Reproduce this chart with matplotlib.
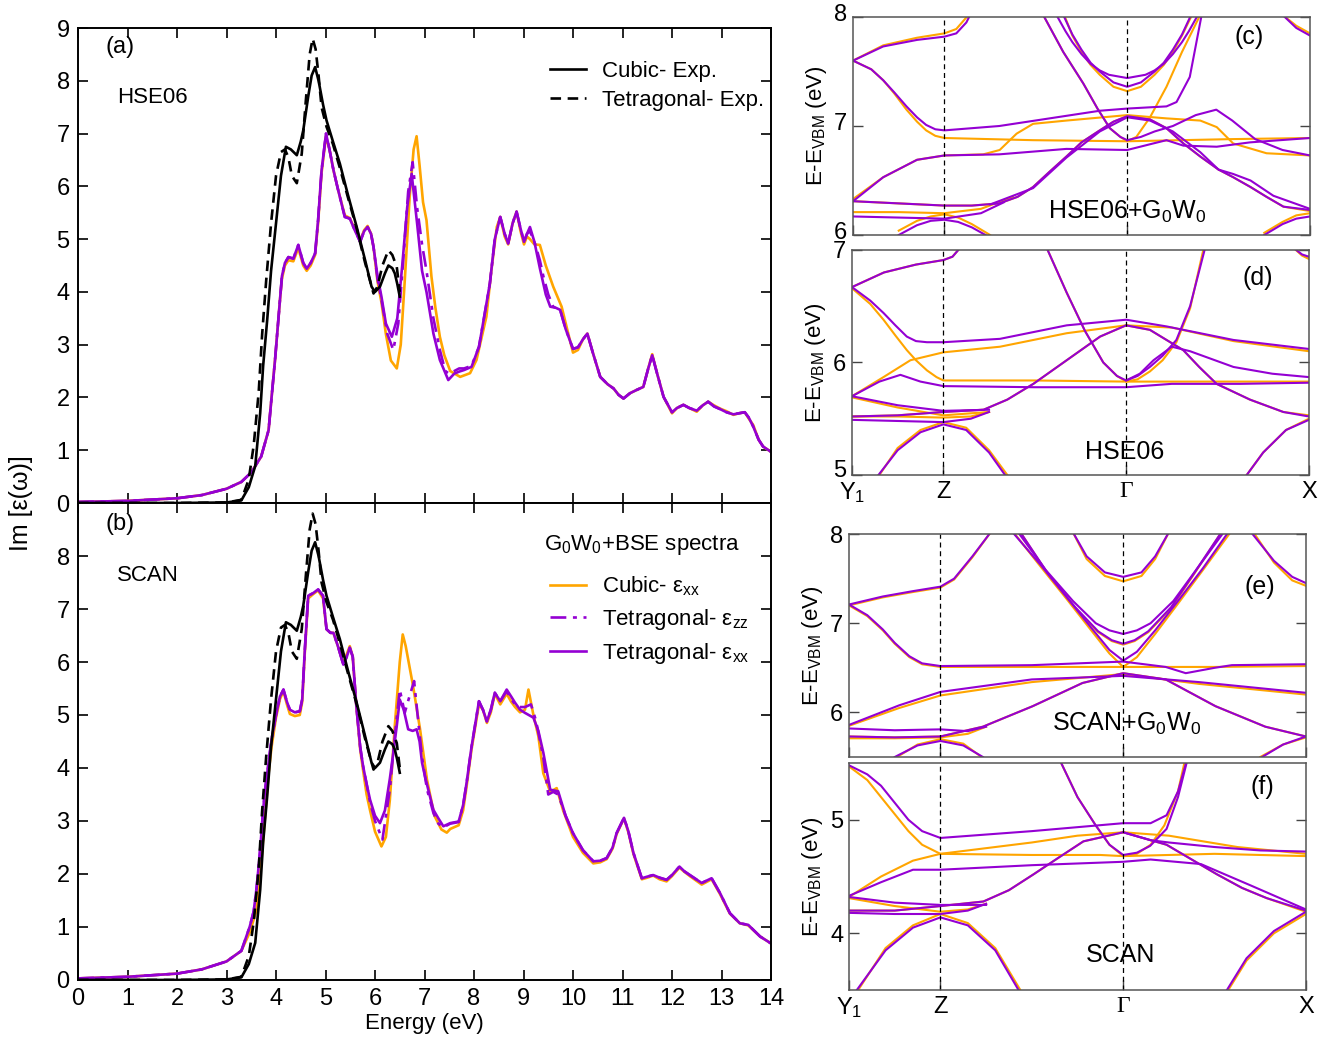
import numpy as np
import matplotlib
matplotlib.use('Agg')
import matplotlib.pyplot as plt
from matplotlib.transforms import ScaledTranslation

plt.rcParams['font.family'] = ['Liberation Sans', 'DejaVu Sans']
plt.rcParams['mathtext.fontset'] = 'custom'
plt.rcParams['mathtext.rm'] = 'Liberation Sans'
plt.rcParams['mathtext.it'] = 'Liberation Sans:italic'

orange = '#FFA500'
purple = '#9400D3'

# ---------------- spectra data (Energy eV, Im eps) ----------------
# experiment (same curves in both panels)
exp_cub_E = [0, 2.0, 3.0, 3.3, 3.45, 3.58, 3.68, 3.74, 3.82, 3.9, 4.0, 4.1, 4.2, 4.3, 4.42, 4.5, 4.55,
             4.65, 4.72, 4.79, 4.86, 4.95, 5.02, 5.15, 5.29, 5.45, 5.63, 5.8, 5.93, 6.0, 6.1, 6.2, 6.27,
             6.35, 6.4, 6.45, 6.5]
exp_cub_v = [0, 0.0, 0.01, 0.05, 0.3, 0.7, 1.7, 2.6, 3.45, 4.4, 5.3, 6.2, 6.75, 6.7, 6.59, 6.85, 7.06,
             7.7, 8.1, 8.26, 8.0, 7.55, 7.25, 6.85, 6.43, 5.85, 5.23, 4.6, 4.1, 4.0, 4.1, 4.35, 4.5,
             4.45, 4.35, 4.15, 3.91]
exp_tet_E = [0, 2.0, 3.0, 3.3, 3.45, 3.55, 3.65, 3.72, 3.8, 3.9, 4.0, 4.1, 4.18, 4.25, 4.32, 4.42, 4.52,
             4.6, 4.68, 4.74, 4.8, 4.86, 4.92, 5.02, 5.15, 5.29, 5.45, 5.63, 5.8, 5.97, 6.05, 6.15, 6.27,
             6.35, 6.44, 6.5]
exp_tet_v = [0, 0, 0.01, 0.06, 0.45, 1.1, 2.1, 3.2, 4.2, 5.3, 6.2, 6.65, 6.7, 6.55, 6.2, 6.06, 6.62,
             7.6, 8.5, 8.8, 8.6, 8.1, 7.5, 7.13, 6.8, 6.35, 5.8, 5.2, 4.55, 3.97, 4.1, 4.5, 4.79,
             4.7, 4.47, 4.0]

# panel (a) HSE06 based
a_txx_E = [0, 1, 2, 2.5, 3.0, 3.3, 3.5, 3.7, 3.85, 3.92, 3.98, 4.03, 4.08, 4.12, 4.18, 4.25, 4.35, 4.45,
           4.55, 4.62, 4.7, 4.79, 4.85, 4.92, 5.01, 5.08, 5.16, 5.25, 5.39, 5.49, 5.6, 5.7, 5.78, 5.85,
           5.92, 5.97, 6.05, 6.13, 6.22, 6.34, 6.45, 6.55, 6.65, 6.74, 6.85, 6.95, 7.04, 7.18, 7.31,
           7.48, 7.6, 7.7, 7.8, 7.95, 8.1, 8.2, 8.32, 8.42, 8.53, 8.62, 8.69, 8.78, 8.86, 8.94, 9.01,
           9.07, 9.13, 9.22, 9.33, 9.45, 9.54, 9.65, 9.74, 9.85, 10.0, 10.1, 10.2, 10.29, 10.4, 10.55,
           10.7, 10.82, 10.92, 11.02, 11.15, 11.28, 11.42, 11.52, 11.6, 11.7, 11.83, 12.0, 12.1, 12.23,
           12.35, 12.5, 12.62, 12.73, 12.85, 12.97, 13.1, 13.24, 13.35, 13.47, 13.55, 13.64, 13.75,
           13.84, 14.0]
a_txx_v = [0.02, 0.04, 0.09, 0.15, 0.27, 0.4, 0.58, 0.88, 1.38, 2.1, 2.71, 3.28, 3.85, 4.3, 4.55, 4.66,
           4.63, 4.89, 4.55, 4.44, 4.55, 4.73, 5.36, 6.3, 7.0, 6.7, 6.31, 5.95, 5.42, 5.39, 5.15, 4.95,
           5.15, 5.23, 5.1, 4.85, 4.3, 3.91, 3.4, 3.15, 3.5, 4.5, 5.6, 6.24, 5.3, 4.4, 4.0, 3.21, 2.71,
           2.33, 2.45, 2.49, 2.52, 2.58, 2.96, 3.5, 4.16, 5.0, 5.42, 5.1, 4.92, 5.3, 5.52, 5.2, 4.95,
           5.1, 5.23, 4.95, 4.45, 3.95, 3.72, 3.7, 3.66, 3.3, 2.92, 2.95, 3.1, 3.21, 2.85, 2.39,
           2.25, 2.17, 2.05, 1.98, 2.08, 2.14, 2.2, 2.55, 2.8, 2.45, 2.01, 1.72, 1.8, 1.86,
           1.8, 1.75, 1.85, 1.92, 1.83, 1.78, 1.72, 1.68, 1.7, 1.72, 1.62, 1.45, 1.2,
           1.07, 0.97]
a_cxx_E = [0, 1, 2, 2.5, 3.0, 3.3, 3.5, 3.7, 3.85, 3.92, 3.98, 4.03, 4.08, 4.12, 4.18, 4.25, 4.35, 4.45,
           4.55, 4.62, 4.7, 4.79, 4.85, 4.92, 5.01, 5.08, 5.16, 5.25, 5.39, 5.49, 5.6, 5.7, 5.78, 5.85,
           5.92, 5.97, 6.05, 6.13, 6.22, 6.32, 6.44, 6.52, 6.6, 6.7, 6.78, 6.84, 6.9, 6.97, 7.04, 7.14,
           7.22, 7.31, 7.4, 7.52, 7.72, 7.92, 8.05, 8.25, 8.35, 8.46, 8.53, 8.62, 8.69, 8.78, 8.86,
           8.94, 9.01, 9.07, 9.13, 9.22, 9.33, 9.45, 9.6, 9.77, 9.88, 10.0, 10.1, 10.2, 10.29, 10.4,
           10.55, 10.7, 10.82, 10.92, 11.02, 11.15, 11.28, 11.42, 11.52, 11.6, 11.7, 11.83, 12.0, 12.1,
           12.23, 12.35, 12.5, 12.62, 12.73, 12.85, 12.97, 13.1, 13.24, 13.35, 13.47, 13.55, 13.64,
           13.75, 13.84, 14.0]
a_cxx_v = [0.02, 0.04, 0.09, 0.15, 0.27, 0.4, 0.58, 0.88, 1.38, 2.1, 2.71, 3.28, 3.85, 4.25, 4.5, 4.6,
           4.58, 4.83, 4.5, 4.4, 4.5, 4.7, 5.3, 6.25, 6.95, 6.7, 6.31, 5.95, 5.45, 5.4, 5.17, 4.97,
           5.17, 5.25, 5.1, 4.85, 4.2, 3.8, 3.2, 2.7, 2.55, 3.0, 4.2, 5.8, 6.7, 6.95, 6.4, 5.7, 5.36,
           4.29, 3.7, 3.15, 2.8, 2.5, 2.39, 2.46, 2.71, 3.53, 4.4, 5.23, 5.42, 5.05, 4.9, 5.3, 5.52,
           5.15, 4.9, 5.05, 5.0, 4.9, 4.89, 4.5, 4.1, 3.72, 3.3, 2.85, 2.9, 3.1, 3.21, 2.85,
           2.39, 2.25, 2.17, 2.05, 1.98, 2.08, 2.14, 2.2, 2.55, 2.82, 2.45, 2.01, 1.7, 1.8,
           1.86, 1.8, 1.73, 1.85, 1.92, 1.85, 1.79, 1.74, 1.67, 1.7, 1.72, 1.6, 1.48,
           1.2, 1.07, 0.97]
a_tzz_E = [0, 1, 2, 2.5, 3.0, 3.3, 3.5, 3.7, 3.85, 3.92, 3.98, 4.03, 4.08, 4.12, 4.18, 4.25, 4.35, 4.45,
           4.55, 4.62, 4.7, 4.79, 4.85, 4.92, 5.01, 5.08, 5.16, 5.25, 5.39, 5.49, 5.6, 5.7, 5.78, 5.85,
           5.92, 5.97, 6.05, 6.13, 6.25, 6.37, 6.47, 6.57, 6.67, 6.76, 6.85, 6.95, 7.04, 7.18, 7.31,
           7.42, 7.5, 7.6, 7.7, 7.8, 7.95, 8.1, 8.2, 8.32, 8.42, 8.53, 8.62, 8.69, 8.78, 8.86, 8.94,
           9.01, 9.07, 9.13, 9.22, 9.33, 9.4, 9.5, 9.6, 9.74, 9.85, 10.0, 10.1, 10.2, 10.29, 10.4,
           10.55, 10.7, 10.82, 10.92, 11.02, 11.15, 11.28, 11.42, 11.52, 11.6, 11.7, 11.83, 12.0, 12.1,
           12.23, 12.35, 12.5, 12.62, 12.73, 12.85, 12.97, 13.1, 13.24, 13.35, 13.47, 13.55, 13.64,
           13.75, 13.84, 14.0]
a_tzz_v = [0.02, 0.04, 0.09, 0.15, 0.27, 0.4, 0.58, 0.88, 1.38, 2.1, 2.71, 3.28, 3.85, 4.3, 4.55, 4.66,
           4.63, 4.89, 4.55, 4.44, 4.55, 4.73, 5.36, 6.3, 7.0, 6.7, 6.31, 5.95, 5.42, 5.39, 5.15, 4.95,
           5.15, 5.23, 5.1, 4.85, 4.25, 3.85, 3.2, 2.9, 3.4, 4.6, 5.9, 6.46, 5.6, 4.9, 4.4, 3.5, 2.9,
           2.5, 2.45, 2.5, 2.55, 2.55, 2.6, 2.96, 3.5, 4.16, 5.0, 5.42, 5.1, 4.92, 5.3, 5.52, 5.2,
           4.95, 5.1, 5.15, 4.95, 4.6, 4.3, 3.95, 3.72, 3.66, 3.3, 2.92, 2.95, 3.1, 3.21, 2.85,
           2.39, 2.25, 2.17, 2.05, 1.98, 2.08, 2.14, 2.2, 2.55, 2.8, 2.45, 2.01, 1.72, 1.8,
           1.86, 1.8, 1.75, 1.85, 1.92, 1.83, 1.78, 1.72, 1.68, 1.7, 1.72, 1.62, 1.45,
           1.2, 1.07, 0.97]

# panel (b) SCAN based
b_txx_E = [0, 1, 2, 2.5, 3.0, 3.3, 3.47, 3.55, 3.61, 3.68, 3.74, 3.78, 3.85, 3.91, 4.0, 4.08, 4.15, 4.22,
           4.28, 4.38, 4.48, 4.53, 4.58, 4.65, 4.75, 4.85, 4.95, 5.02, 5.1, 5.16, 5.25, 5.36, 5.43,
           5.49, 5.55, 5.62, 5.7, 5.76, 5.83, 5.9, 6.0, 6.1, 6.2, 6.3, 6.37, 6.44, 6.5, 6.58, 6.67,
           6.76, 6.84, 6.9, 6.95, 7.01, 7.1, 7.18, 7.28, 7.38, 7.52, 7.69, 7.78, 7.85, 7.95, 8.1,
           8.18, 8.26, 8.34, 8.42, 8.53, 8.66, 8.75, 8.83, 8.93, 9.03, 9.2, 9.3, 9.4, 9.54, 9.7,
           9.85, 10.0, 10.2, 10.41, 10.55, 10.68, 10.8, 10.88, 11.03, 11.12, 11.22, 11.39, 11.5,
           11.62, 11.75, 11.89, 12.0, 12.15, 12.25, 12.36, 12.6, 12.8, 12.97, 13.17, 13.37, 13.54,
           13.78, 14.0]
b_txx_v = [0.03, 0.06, 0.12, 0.2, 0.35, 0.55, 1.01, 1.3, 1.76, 2.46, 3.21, 3.6, 4.1, 4.54, 5.0, 5.35,
           5.48, 5.25, 5.1, 5.05, 5.07, 5.3, 6.2, 7.25, 7.3, 7.37, 7.25, 6.62, 6.55, 6.55, 6.3, 5.95,
           6.1, 6.27, 6.1, 5.2, 4.4, 4.03, 3.7, 3.4, 3.1, 2.96, 3.2, 3.8, 4.29, 4.8, 5.29, 5.1, 4.73,
           4.7, 4.73, 4.5, 4.1, 3.84, 3.5, 3.21, 3.05, 2.9, 2.96, 2.99, 3.3, 3.72, 4.4, 5.26,
           5.1, 4.88, 5.1, 5.42, 5.26, 5.48, 5.35, 5.23, 5.1, 5.04, 4.95, 4.7, 4.29, 3.59, 3.56,
           3.1, 2.77, 2.45, 2.24, 2.25, 2.3, 2.5, 2.77, 3.06, 2.8, 2.4, 1.92, 1.95,
           1.98, 1.93, 1.89, 1.98, 2.14, 2.05, 1.98, 1.83, 1.92, 1.64, 1.26, 1.07, 1.04,
           0.82, 0.69]
b_cxx_E = [0, 1, 2, 2.5, 3.0, 3.3, 3.47, 3.6, 3.7, 3.78, 3.85, 3.91, 4.0, 4.08, 4.15, 4.22, 4.28, 4.38,
           4.48, 4.53, 4.58, 4.65, 4.75, 4.85, 4.95, 5.02, 5.1, 5.16, 5.25, 5.36, 5.43, 5.49, 5.55,
           5.62, 5.7, 5.76, 5.83, 5.9, 6.0, 6.13, 6.22, 6.3, 6.4, 6.5, 6.56, 6.62, 6.77, 6.91, 7.05,
           7.2, 7.34, 7.45, 7.52, 7.69, 7.78, 7.85, 7.95, 8.1, 8.18, 8.26, 8.34, 8.42, 8.53, 8.66,
           8.75, 8.83, 8.93, 9.03, 9.1, 9.2, 9.3, 9.4, 9.54, 9.67, 9.8, 10.0, 10.2, 10.41, 10.55,
           10.68, 10.8, 10.88, 11.03, 11.12, 11.22, 11.39, 11.5, 11.62, 11.75, 11.89, 12.0, 12.15,
           12.25, 12.36, 12.6, 12.8, 12.97, 13.17, 13.37, 13.54, 13.78, 14.0]
b_cxx_v = [0.03, 0.06, 0.12, 0.2, 0.35, 0.55, 0.9, 1.3, 2.2, 3.1, 3.9, 4.4, 4.95, 5.3, 5.45, 5.2, 5.02,
           4.98, 5.0, 5.25, 6.15, 7.2, 7.28, 7.35, 7.2, 6.62, 6.55, 6.55, 6.3, 5.97, 6.15, 6.3,
           6.1, 5.2, 4.35, 3.95, 3.5, 3.2, 2.8, 2.52, 2.7, 3.4, 4.8, 6.0, 6.52, 6.3, 5.54, 4.73, 3.78,
           3.1, 2.84, 2.78, 2.85, 2.92, 3.2, 3.65, 4.35, 5.2, 5.1, 4.85, 5.05, 5.4, 5.2, 5.4,
           5.25, 5.15, 5.05, 5.1, 5.48, 5.0, 4.6, 3.9, 3.55, 3.62, 3.2, 2.7, 2.4, 2.2, 2.22,
           2.28, 2.48, 2.75, 3.05, 2.78, 2.38, 1.9, 1.93, 1.97, 1.9, 1.86, 1.96, 2.12,
           2.04, 1.96, 1.8, 1.9, 1.62, 1.25, 1.07, 1.03, 0.82, 0.69]
b_tzz_E = [0, 1, 2, 2.5, 3.0, 3.3, 3.47, 3.55, 3.61, 3.68, 3.74, 3.78, 3.85, 3.91, 4.0, 4.08, 4.15, 4.22,
           4.28, 4.38, 4.48, 4.53, 4.58, 4.65, 4.75, 4.85, 4.95, 5.02, 5.1, 5.16, 5.25, 5.36, 5.43,
           5.49, 5.55, 5.62, 5.7, 5.76, 5.83, 5.9, 6.0, 6.15, 6.3, 6.4, 6.5, 6.6, 6.68, 6.79, 6.86,
           6.95, 7.05, 7.18, 7.28, 7.38, 7.52, 7.69, 7.78, 7.85, 7.95, 8.1, 8.18, 8.26, 8.34, 8.42,
           8.53, 8.66, 8.75, 8.83, 8.9, 9.03, 9.15, 9.25, 9.4, 9.5, 9.6, 9.7, 9.85, 10.0, 10.2, 10.41,
           10.55, 10.68, 10.8, 10.88, 11.03, 11.12, 11.22, 11.39, 11.5, 11.62, 11.75, 11.89, 12.0,
           12.15, 12.25, 12.36, 12.6, 12.8, 12.97, 13.17, 13.37, 13.54, 13.78, 14.0]
b_tzz_v = [0.03, 0.06, 0.12, 0.2, 0.35, 0.55, 1.01, 1.3, 1.76, 2.46, 3.21, 3.6, 4.1, 4.54, 5.0, 5.35,
           5.48, 5.25, 5.1, 5.05, 5.07, 5.3, 6.2, 7.25, 7.3, 7.37, 7.25, 6.62, 6.55, 6.55, 6.3, 5.95,
           6.1, 6.27, 6.1, 5.2, 4.4, 4.03, 3.7, 3.35, 3.0, 2.65, 3.6, 4.6, 5.48, 5.04, 5.3, 5.64, 5.0,
           4.2, 3.6, 3.15, 2.95, 2.88, 2.95, 2.98, 3.3, 3.72, 4.4, 5.26, 5.1, 4.88, 5.1, 5.42,
           5.26, 5.45, 5.3, 5.2, 5.15, 5.15, 5.2, 4.9, 4.2, 3.5, 3.55, 3.5, 3.1, 2.77, 2.45, 2.24,
           2.25, 2.3, 2.5, 2.77, 3.06, 2.8, 2.4, 1.92, 1.95, 1.98, 1.93, 1.89, 1.98,
           2.14, 2.05, 1.98, 1.83, 1.92, 1.64, 1.26, 1.07, 1.04, 0.82, 0.69]

# ---------------- band structure data (k fraction along Y1-Z-Gamma-X, E-E_VBM eV) ----------------
k_ticks = [0, 0.2, 0.6, 1.0]
k_labels = ['Y$_1$', 'Z', '\u0393', 'X']

c_orange = [
    ([0, .066, .14, .2, .226, .255], [7.60, 7.74, 7.81, 7.85, 7.89, 8.03]),
    ([0, .04, .066, .09, .117, .14, .16, .18, .2, .394, .6, .832, 1],
     [7.60, 7.52, 7.42, 7.3, 7.15, 7.04, 6.96, 6.91, 6.89, 6.87, 6.86, 6.88, 6.89]),
    ([0, .066, .14, .2, .285, .321, .358, .394, .467, .6, .686, .76, .796, .832, .905, 1],
     [6.33, 6.53, 6.69, 6.73, 6.74, 6.78, 6.93, 7.02, 7.05, 7.1, 7.07, 7.05, 6.99, 6.84, 6.75, 6.73]),
    ([.416, .46, .504, .535, .562, .585, .6, .62, .65, .686, .72, .76],
     [8.02, 7.68, 7.39, 7.16, 6.98, 6.9, 6.86, 6.9, 7.08, 7.36, 7.68, 8.02]),
    ([.462, .48, .5, .52, .54, .57, .6, .63, .66, .68, .7, .72, .742],
     [8.02, 7.83, 7.68, 7.56, 7.47, 7.36, 7.32, 7.36, 7.47, 7.56, 7.68, 7.83, 8.02]),
    ([0, .1, .2, .26, .32, .36, .394, .43, .467, .5, .54, .57, .6, .65, .686, .723, .76, .8, .832, .87, .905, .942, 1],
     [6.31, 6.29, 6.27, 6.27, 6.29, 6.35, 6.44, 6.58, 6.72, 6.85, 6.96, 7.04, 7.09, 7.06, 6.98, 6.84,
      6.72, 6.6, 6.53, 6.44, 6.35, 6.26, 6.22]),
    ([0, .1, .2, .28, .35], [6.21, 6.21, 6.2, 6.24, 6.35]),
    ([.1, .14, .17, .2, .23, .26, .3], [6.04, 6.13, 6.17, 6.19, 6.16, 6.1, 6.0]),
    ([.9, .94, .97, 1], [6.02, 6.12, 6.18, 6.2]),
    ([.94, .97, 1], [8.02, 7.92, 7.85]),
]
c_purple = [
    ([0, .066, .14, .2, .226, .248, .26], [7.60, 7.73, 7.79, 7.82, 7.85, 7.95, 8.05]),
    ([0, .04, .066, .09, .117, .14, .16, .18, .2, .32, .43, .54, .6, .686, .708, .737, .763],
     [7.60, 7.52, 7.42, 7.31, 7.18, 7.08, 7.01, 6.97, 6.96, 7.0, 7.07, 7.14, 7.16, 7.18, 7.22, 7.45, 8.02]),
    ([0, .066, .14, .2, .32, .467, .6, .657, .686, .723, .796, .869, 1],
     [6.31, 6.53, 6.69, 6.73, 6.74, 6.79, 6.78, 6.84, 6.87, 6.82, 6.81, 6.85, 6.89]),
    ([.416, .46, .504, .535, .562, .585, .6], [8.02, 7.68, 7.39, 7.16, 6.98, 6.9, 6.87]),
    ([.445, .465, .48, .5, .52, .54, .56, .6, .64, .66, .68, .7, .72, .735, .755],
     [8.02, 7.87, 7.77, 7.66, 7.57, 7.51, 7.47, 7.44, 7.47, 7.51, 7.57, 7.66, 7.77, 7.87, 8.02]),
    ([.46, .48, .5, .52, .54, .57, .6, .63, .66, .68, .7, .72, .74],
     [8.02, 7.84, 7.7, 7.58, 7.5, 7.4, 7.36, 7.4, 7.5, 7.58, 7.7, 7.84, 8.02]),
    ([0, .1, .2, .26, .32, .36, .394, .43, .467, .5, .54, .57, .6, .65, .686, .723, .76, .8, .832, .87, .905, .942, 1],
     [6.31, 6.29, 6.27, 6.27, 6.29, 6.35, 6.44, 6.58, 6.72, 6.85, 6.96, 7.04, 7.09, 7.06, 6.98, 6.84,
      6.72, 6.6, 6.53, 6.44, 6.35, 6.26, 6.23]),
    ([.3, .394, .467, .54, .6, .65, .7, .76, .8, .832, .87, .92, 1],
     [6.28, 6.43, 6.71, 6.95, 7.08, 7.05, 6.95, 6.76, 6.6, 6.56, 6.5, 6.36, 6.24]),
    ([.6, .63, .66, .7, .75, .795, .83, .88, .94, 1], [6.87, 6.9, 6.95, 7.0, 7.1, 7.15, 7.05, 6.88, 6.78, 6.73]),
    ([0, .1, .2, .28, .33], [6.17, 6.16, 6.15, 6.2, 6.3]),
    ([.1, .14, .17, .2, .23, .26, .29], [6.0, 6.09, 6.13, 6.14, 6.12, 6.07, 6.0]),
    ([.9, .94, .97, 1], [6.0, 6.1, 6.15, 6.17]),
    ([.94, .97, 1], [8.02, 7.9, 7.83]),
]

d_orange = [
    ([0, .07, .14, .2, .22, .237], [6.67, 6.8, 6.87, 6.91, 6.94, 7.02]),
    ([0, .04, .069, .095, .12, .14, .164, .185, .2, .4, .6, .8, 1],
     [6.66, 6.52, 6.38, 6.24, 6.11, 6.02, 5.93, 5.87, 5.84, 5.84, 5.83, 5.83, 5.83]),
    ([0, .069, .128, .2, .324, .47, .6, .7, .835, 1], [5.70, 5.87, 6.02, 6.09, 6.14, 6.26, 6.33, 6.31, 6.19, 6.10]),
    ([.426, .47, .51, .55, .58, .6, .625, .652, .68, .71, .74, .77],
     [7.02, 6.62, 6.28, 6.0, 5.88, 5.83, 5.85, 5.92, 6.02, 6.18, 6.48, 7.02]),
    ([0, .1, .2, .288, .34, .397, .47, .543, .6, .652, .725, .76, .798, .871, .944, 1],
     [5.52, 5.53, 5.56, 5.58, 5.67, 5.81, 6.02, 6.23, 6.33, 6.29, 6.11, 5.96, 5.81, 5.67, 5.56, 5.53]),
    ([0, .1, .2, .26, .3], [5.52, 5.52, 5.51, 5.52, 5.56]),
    ([0, .1, .2, .3], [5.69, 5.6, 5.53, 5.56]),
    ([.06, .1, .15, .2, .25, .3, .34], [5.0, 5.24, 5.4, 5.47, 5.42, 5.22, 5.0]),
    ([.864, .9, .95, 1], [5.0, 5.2, 5.4, 5.5]),
    ([.966, .985, 1], [7.02, 6.95, 6.92]),
]
d_purple = [
    ([0, .07, .14, .2, .22, .237], [6.67, 6.8, 6.87, 6.91, 6.94, 7.02]),
    ([0, .04, .069, .095, .12, .14, .164, .2, .324, .47, .6, .689, .835, 1],
     [6.67, 6.55, 6.44, 6.33, 6.23, 6.19, 6.18, 6.18, 6.21, 6.33, 6.38, 6.32, 6.2, 6.12]),
    ([0, .06, .106, .15, .2, .4, .6, .7, .85, 1], [5.70, 5.83, 5.89, 5.83, 5.79, 5.78, 5.78, 5.81, 5.81, 5.82]),
    ([.426, .47, .51, .55, .58, .6, .625, .652, .68, .71, .74, .773],
     [7.02, 6.62, 6.28, 6.0, 5.88, 5.84, 5.88, 5.96, 6.06, 6.2, 6.5, 7.02]),
    ([0, .1, .2, .288, .34, .397, .47, .543, .6, .652, .725, .76, .798, .871, .944, 1],
     [5.52, 5.53, 5.56, 5.58, 5.67, 5.81, 6.02, 6.23, 6.33, 6.29, 6.11, 5.96, 5.81, 5.67, 5.56, 5.52]),
    ([.6, .63, .66, .7, .74, .835, .92, 1], [5.84, 5.9, 6.02, 6.14, 6.1, 5.96, 5.9, 5.87]),
    ([0, .1, .2, .26, .3], [5.49, 5.48, 5.47, 5.5, 5.56]),
    ([0, .1, .2, .3], [5.70, 5.62, 5.57, 5.58]),
    ([.058, .1, .15, .2, .25, .3, .335], [5.0, 5.22, 5.38, 5.45, 5.4, 5.2, 5.0]),
    ([.864, .9, .95, 1], [5.0, 5.2, 5.4, 5.49]),
    ([.966, .985, 1], [7.02, 6.96, 6.94]),
]

e_orange = [
    ([0, .074, .14, .2, .23, .27, .31], [7.20, 7.29, 7.35, 7.40, 7.49, 7.74, 8.02]),
    ([0, .04, .074, .1, .132, .16, .2, .4, .6, .8, 1],
     [7.20, 7.08, 6.92, 6.77, 6.62, 6.54, 6.51, 6.51, 6.51, 6.51, 6.52]),
    ([0, .11, .2, .4, .6, .766, 1], [5.85, 6.05, 6.19, 6.34, 6.43, 6.32, 6.2]),
    ([.36, .42, .475, .53, .57, .6, .63, .67, .72, .775, .835],
     [8.02, 7.63, 7.28, 6.92, 6.66, 6.51, 6.62, 6.88, 7.22, 7.6, 8.02]),
    ([.375, .435, .495, .545, .575, .6, .625, .655, .705, .755, .815],
     [8.02, 7.55, 7.17, 6.9, 6.8, 6.76, 6.8, 6.9, 7.17, 7.55, 8.02]),
    ([.49, .52, .56, .6, .64, .67, .7], [8.02, 7.72, 7.53, 7.47, 7.53, 7.72, 8.02]),
    ([.885, .93, .97, 1], [8.02, 7.68, 7.48, 7.42]),
    ([0, .1, .2, .293, .402, .511, .6, .693, .802, .911, 1], [5.73, 5.72, 5.73, 5.84, 6.07, 6.33, 6.44, 6.37, 6.07, 5.84, 5.73]),
    ([0, .1, .2, .26, .3], [5.71, 5.71, 5.72, 5.76, 5.84]),
    ([.105, .15, .2, .25, .29], [5.5, 5.64, 5.7, 5.65, 5.5]),
    ([.9, .95, 1], [5.5, 5.64, 5.72]),
]
e_purple = [
    ([0, .074, .14, .2, .23, .27, .31], [7.21, 7.3, 7.36, 7.41, 7.5, 7.75, 8.02]),
    ([0, .04, .074, .1, .132, .16, .2, .4, .6, .693, .737, .8, .838, 1],
     [7.21, 7.09, 6.93, 6.78, 6.63, 6.55, 6.52, 6.53, 6.57, 6.51, 6.44, 6.5, 6.53, 6.54]),
    ([0, .11, .2, .4, .6, .766, 1], [5.86, 6.08, 6.23, 6.37, 6.41, 6.34, 6.22]),
    ([.358, .42, .475, .53, .57, .6, .63, .67, .72, .775, .83],
     [8.02, 7.65, 7.3, 6.95, 6.7, 6.58, 6.68, 6.92, 7.25, 7.62, 8.02]),
    ([.37, .43, .49, .54, .57, .6, .63, .66, .71, .76, .82],
     [8.02, 7.6, 7.25, 7.0, 6.92, 6.88, 6.92, 7.0, 7.25, 7.6, 8.02]),
    ([.375, .435, .495, .545, .575, .6, .625, .655, .705, .755, .815],
     [8.02, 7.56, 7.18, 6.91, 6.81, 6.77, 6.81, 6.91, 7.18, 7.56, 8.02]),
    ([.49, .52, .56, .6, .64, .67, .7], [8.02, 7.75, 7.57, 7.52, 7.57, 7.75, 8.02]),
    ([.88, .93, .97, 1], [8.02, 7.7, 7.52, 7.45]),
    ([0, .1, .2, .293, .402, .511, .6, .693, .802, .911, 1], [5.73, 5.72, 5.73, 5.84, 6.07, 6.33, 6.44, 6.37, 6.07, 5.84, 5.73]),
    ([0, .1, .2, .26, .3], [5.82, 5.8, 5.81, 5.79, 5.84]),
    ([.1, .15, .2, .25, .293], [5.5, 5.63, 5.68, 5.63, 5.5]),
    ([.904, .95, 1], [5.5, 5.64, 5.73]),
]

f_orange = [
    ([0, .04, .07, .1, .13, .16, .2, .4, .55, .6, .8, 1], [5.47, 5.35, 5.2, 5.05, 4.9, 4.78, 4.70, 4.69, 4.69, 4.68, 4.7, 4.68]),
    ([0, .07, .14, .2, .4, .5, .6, .7, .85, 1], [4.32, 4.5, 4.64, 4.70, 4.8, 4.86, 4.89, 4.86, 4.76, 4.7]),
    ([.462, .5, .54, .57, .6, .63, .66, .69, .72, .735], [5.52, 5.2, 4.95, 4.78, 4.68, 4.7, 4.78, 4.95, 5.25, 5.52]),
    ([0, .1, .2, .294, .35, .404, .46, .513, .6, .695, .75, .805, .86, .914, 1],
     [4.2, 4.2, 4.24, 4.28, 4.38, 4.52, 4.67, 4.81, 4.89, 4.78, 4.65, 4.52, 4.4, 4.31, 4.19]),
    ([0, .1, .2, .26, .3], [4.31, 4.24, 4.19, 4.21, 4.26]),
    ([.02, .08, .14, .2, .26, .32, .375], [3.5, 3.87, 4.07, 4.17, 4.09, 3.87, 3.5]),
    ([.83, .87, .93, 1], [3.5, 3.76, 4.0, 4.17]),
]
f_purple = [
    ([0, .04, .07, .1, .13, .16, .2, .4, .6, .66, .695, .72, .739],
     [5.48, 5.4, 5.3, 5.15, 5.0, 4.9, 4.84, 4.9, 4.97, 4.97, 5.04, 5.25, 5.52]),
    ([0, .07, .14, .2, .4, .6, .66, .77, .88, 1], [4.33, 4.45, 4.56, 4.56, 4.6, 4.63, 4.65, 4.61, 4.42, 4.21]),
    ([.462, .5, .54, .57, .6, .63, .659, .695, .72, .74], [5.52, 5.2, 4.95, 4.78, 4.69, 4.71, 4.77, 4.92, 5.2, 5.52]),
    ([0, .1, .2, .294, .35, .404, .46, .513, .6, .695, .75, .805, .86, .914, 1],
     [4.2, 4.2, 4.24, 4.28, 4.38, 4.52, 4.67, 4.81, 4.89, 4.78, 4.65, 4.52, 4.4, 4.31, 4.2]),
    ([.6, .66, .7, .8, .9, 1], [4.89, 4.82, 4.8, 4.76, 4.73, 4.72]),
    ([0, .1, .2, .26, .3], [4.18, 4.17, 4.17, 4.2, 4.26]),
    ([0, .1, .2, .3], [4.32, 4.27, 4.25, 4.25]),
    ([.017, .08, .14, .2, .26, .32, .371], [3.5, 3.85, 4.05, 4.14, 4.07, 3.85, 3.5]),
    ([.827, .87, .93, 1], [3.5, 3.78, 4.02, 4.19]),
]

# ---------------- figure ----------------
fig = plt.figure(figsize=(13.36, 10.38), dpi=100)
ax_a = fig.add_axes([0.0584, 0.5154, 0.5187, 0.4576])
ax_b = fig.add_axes([0.0584, 0.0559, 0.5187, 0.4595])


def style_spec(ax, yticks):
    ax.set_xlim(0, 14)
    ax.set_ylim(0, 9)
    ax.set_xticks(range(15))
    ax.set_yticks(yticks)
    ax.tick_params(direction='in', length=7, width=1.2, top=True, right=True, labelsize=17, pad=6)
    for s in ax.spines.values():
        s.set_linewidth(1.4)


lw = 1.9
dashdot = (0, (6, 2.5, 1.5, 2.5))
ax_a.plot(a_cxx_E, a_cxx_v, color=orange, lw=lw)
ax_a.plot(a_tzz_E, a_tzz_v, color=purple, lw=lw, ls=dashdot)
ax_a.plot(a_txx_E, a_txx_v, color=purple, lw=lw)
ax_a.plot(exp_cub_E, exp_cub_v, color='black', lw=lw, label='Cubic- Exp.')
ax_a.plot(exp_tet_E, exp_tet_v, color='black', lw=lw, ls=(0, (4, 2.5)), label='Tetragonal- Exp.')
style_spec(ax_a, range(10))
ax_a.tick_params(labelbottom=False)
ax_a.legend(loc='upper left', bbox_to_anchor=(0.665, 0.955), frameon=False, fontsize=16,
            handlelength=1.6, handletextpad=0.75, labelspacing=0.38, borderpad=0)
ax_a.text(0.061, 0.96, '(a)', transform=ax_a.transAxes, fontsize=17, ha='center', va='center')
ax_a.text(0.108, 0.853, 'HSE06', transform=ax_a.transAxes, fontsize=16, ha='center', va='center')

l1, = ax_b.plot(b_cxx_E, b_cxx_v, color=orange, lw=lw, label='Cubic- \u03b5$_{\\mathrm{xx}}$')
l2, = ax_b.plot(b_tzz_E, b_tzz_v, color=purple, lw=lw, ls=dashdot,
                label='Tetragonal- \u03b5$_{\\mathrm{zz}}$')
l3, = ax_b.plot(b_txx_E, b_txx_v, color=purple, lw=lw, label='Tetragonal- \u03b5$_{\\mathrm{xx}}$')
ax_b.plot(exp_cub_E, exp_cub_v, color='black', lw=lw)
ax_b.plot(exp_tet_E, exp_tet_v, color='black', lw=lw, ls=(0, (4, 2.5)))
style_spec(ax_b, range(9))
ax_b.set_xlabel('Energy (eV)', fontsize=16, labelpad=2)
ax_b.text(0.672, 0.912, 'G$_0$W$_0$+BSE spectra', transform=ax_b.transAxes, fontsize=16,
          ha='left', va='center')
ax_b.legend(handles=[l1, l2, l3], loc='upper left', bbox_to_anchor=(0.665, 0.873), frameon=False,
            fontsize=16, handlelength=1.6, handletextpad=0.75, labelspacing=0.4, borderpad=0)
ax_b.text(0.061, 0.956, '(b)', transform=ax_b.transAxes, fontsize=17, ha='center', va='center')
ax_b.text(0.101, 0.849, 'SCAN', transform=ax_b.transAxes, fontsize=16, ha='center', va='center')

fig.text(0.016, 0.515, 'Im [\u03b5(\u03c9)]', rotation=90, fontsize=18, ha='center', va='center')

# ---------------- band panels ----------------
# last entry: upward shift (px) of each y tick label
band_axes = [
    ([0.6385, 0.7736, 0.342, 0.2100], c_orange, c_purple, (6, 8), [6, 7, 8], False, '(c)',
     (0.867, 0.908), 'HSE06+G$_0$W$_0$', (0.6, 0.105), [5, 5, 5]),
    ([0.6377, 0.5424, 0.342, 0.2168], d_orange, d_purple, (5, 7), [5, 6, 7], True, '(d)',
     (0.888, 0.876), 'HSE06', (0.597, 0.102), [6, 0, 0]),
    ([0.6355, 0.2707, 0.342, 0.2148], e_orange, e_purple, (5.5, 8), [6, 7, 8], False, '(e)',
     (0.899, 0.762), 'SCAN+G$_0$W$_0$', (0.608, 0.148), [0, 0, 0]),
    ([0.6355, 0.0462, 0.342, 0.2187], f_orange, f_purple, (3.5, 5.5), [4, 5], True, '(f)',
     (0.904, 0.894), 'SCAN', (0.595, 0.154), [0, 0]),
]

for rect, bo, bp, ylim, yt, show_k, tag, tag_xy, name, name_xy, lift in band_axes:
    ax = fig.add_axes(rect)
    for ks, es in bo:
        ax.plot(ks, es, color=orange, lw=1.5)
    for ks, es in bp:
        ax.plot(ks, es, color=purple, lw=1.5)
    for kv in k_ticks[1:3]:
        ax.axvline(kv, color='black', lw=0.9, ls=(0, (4, 3)))
    ax.set_xlim(0, 1)
    ax.set_ylim(*ylim)
    ax.set_yticks(yt)
    ax.set_xticks(k_ticks)
    ax.tick_params(direction='in', length=7, width=1.0, right=True, labelsize=17, pad=4,
                   color='#444444')
    for lab, dy in zip(ax.get_yticklabels(), lift):
        if dy:
            lab.set_transform(lab.get_transform() + ScaledTranslation(0, dy / 100, fig.dpi_scale_trans))
    if show_k:
        ax.set_xticklabels(k_labels)
        ax.get_xticklabels()[2].set_fontfamily('Liberation Serif')
    else:
        ax.set_xticklabels([])
    for s in ax.spines.values():
        s.set_color('#555555')
        s.set_linewidth(1.1)
    ax.set_ylabel('E-E$_{\\mathrm{VBM}}$ (eV)', fontsize=16, labelpad=4)
    ax.text(tag_xy[0], tag_xy[1], tag, transform=ax.transAxes, fontsize=18, ha='center', va='center')
    ax.text(name_xy[0], name_xy[1], name, transform=ax.transAxes, fontsize=18, ha='center', va='center')

fig.savefig('out.png', dpi=100)
